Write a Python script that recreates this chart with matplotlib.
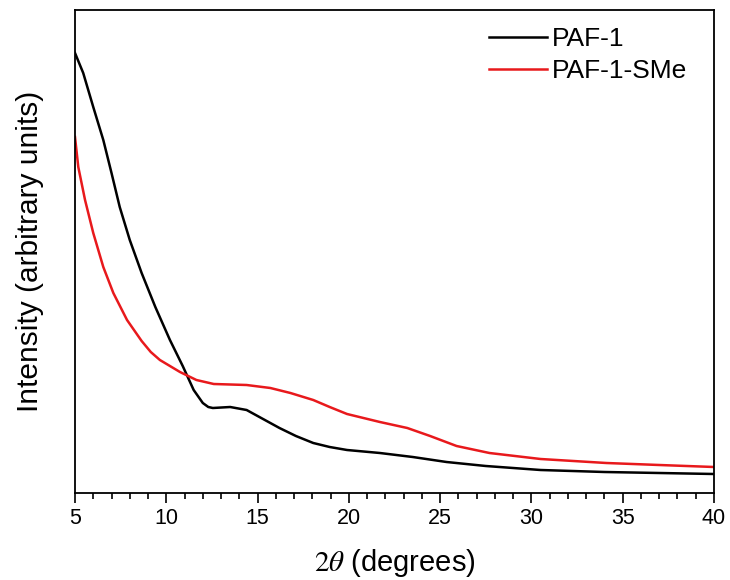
import numpy as np
import matplotlib
matplotlib.use("Agg")
import matplotlib.pyplot as plt
from matplotlib.ticker import MultipleLocator

# 2theta (deg) and intensity (arbitrary units)
two_theta_paf = [5.0, 5.45, 6.0, 6.55, 7.0, 7.45, 8.0, 8.65, 9.4, 10.2, 10.9,
                 11.5, 12.0, 12.3, 12.55, 13.5, 14.4, 15.3, 16.2, 17.1, 18.05,
                 18.95, 19.9, 21.7, 23.5, 25.35, 27.5, 30.5, 34.0, 37.0, 40.0]
intensity_paf = [440, 420, 386, 353, 320, 286, 253, 220, 186, 153, 127,
                 103, 90, 86, 85, 86, 83, 74, 65, 57, 50,
                 46, 43, 40, 36, 31, 27, 23, 21, 20, 19]

two_theta_sme = [5.0, 5.18, 5.55, 6.0, 6.55, 7.1, 7.85, 8.65, 9.15, 9.65,
                 10.2, 10.75, 11.65, 12.6, 14.4, 15.7, 16.8, 18.05, 18.95,
                 19.9, 21.7, 23.2, 24.45, 25.9, 27.7, 30.5, 34.1, 37.0, 40.0]
intensity_sme = [356, 326, 293, 260, 226, 200, 173, 152, 141, 133,
                 127, 121, 113, 109, 108, 105, 100, 93, 86,
                 79, 71, 65, 57, 47, 40, 34, 30, 28, 26]

plt.rcParams['font.family'] = ['Liberation Sans', 'DejaVu Sans']
plt.rcParams['mathtext.fontset'] = 'stix'

fig = plt.figure(figsize=(7.3, 5.8), dpi=100)
ax = fig.add_axes([75 / 730, 1 - 493 / 580, 639 / 730, 483 / 580])

ax.plot(two_theta_paf, intensity_paf, color='black', lw=1.8, label='PAF-1')
ax.plot(two_theta_sme, intensity_sme, color='#e8191c', lw=1.8, label='PAF-1-SMe')

ax.set_xlim(5, 40)
ax.set_ylim(0, 483)
ax.xaxis.set_major_locator(MultipleLocator(5))
ax.xaxis.set_minor_locator(MultipleLocator(1))
ax.tick_params(axis='x', which='major', direction='out', length=7, width=1.2,
               labelsize=15.5, pad=4)
ax.tick_params(axis='x', which='minor', direction='out', length=4, width=1.2)
ax.tick_params(axis='y', left=False, labelleft=False)
for s in ax.spines.values():
    s.set_linewidth(1.3)

ax.set_xlabel(r'$2\theta$ (degrees)', fontsize=21, labelpad=13)
ax.set_ylabel('Intensity (arbitrary units)', fontsize=21.5, labelpad=22)

ax.legend(loc='upper right', bbox_to_anchor=(0.958, 0.965), frameon=False,
          fontsize=19, handlelength=2.2, handletextpad=0.2, labelspacing=0.3,
          borderaxespad=0, borderpad=0)

fig.savefig('out.png', dpi=100)
